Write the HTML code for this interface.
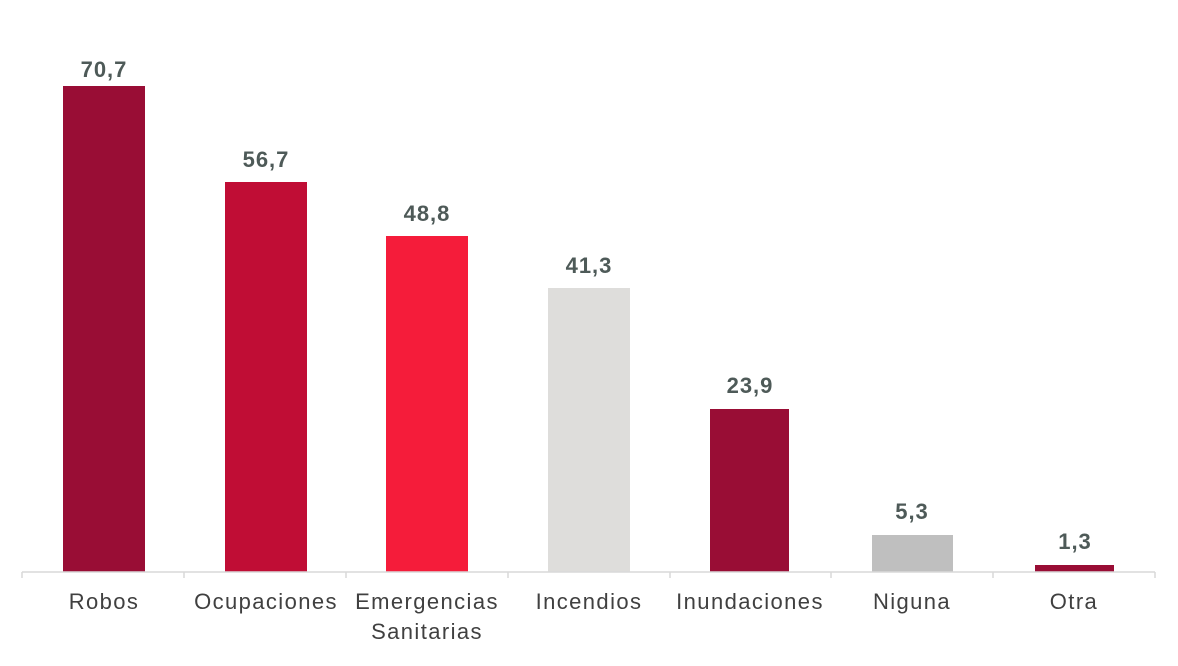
<!DOCTYPE html>
<html><head><meta charset="utf-8"><style>
html,body{margin:0;padding:0;background:#fff;}
body{width:1178px;height:661px;overflow:hidden;}
text{font-family:"Liberation Sans",sans-serif;}
</style></head><body>
<svg width="1178" height="661" viewBox="0 0 1178 661" xmlns="http://www.w3.org/2000/svg">
<g>
<rect x="63" y="86" width="82" height="486" fill="#990D35"/>
<rect x="225" y="182" width="82" height="390" fill="#C00D35"/>
<rect x="386" y="236" width="82" height="336" fill="#F51C3A"/>
<rect x="548" y="288" width="82" height="284" fill="#DEDDDB"/>
<rect x="710" y="409" width="79" height="163" fill="#990D35"/>
<rect x="872" y="535" width="81" height="37" fill="#BFBFBF"/>
<rect x="1035" y="565" width="79" height="7" fill="#990D35"/>
</g>
<g stroke="#D9D9D9" stroke-width="1.5">
<line x1="22" y1="572" x2="1155" y2="572"/>
<line x1="22" y1="572" x2="22" y2="578"/>
<line x1="184" y1="572" x2="184" y2="578"/>
<line x1="346" y1="572" x2="346" y2="578"/>
<line x1="508" y1="572" x2="508" y2="578"/>
<line x1="670" y1="572" x2="670" y2="578"/>
<line x1="831" y1="572" x2="831" y2="578"/>
<line x1="993" y1="572" x2="993" y2="578"/>
<line x1="1155" y1="572" x2="1155" y2="578"/>
</g>
<g font-size="22" font-weight="bold" fill="#4E5A58" text-anchor="middle" letter-spacing="1">
<text x="104" y="77">70,7</text>
<text x="266" y="167">56,7</text>
<text x="427" y="221">48,8</text>
<text x="589" y="273">41,3</text>
<text x="750" y="393">23,9</text>
<text x="912" y="519">5,3</text>
<text x="1075" y="549">1,3</text>
</g>
<g font-size="22" fill="#404040" text-anchor="middle" letter-spacing="1.4">
<text x="104" y="609">Robos</text>
<text x="266" y="609">Ocupaciones</text>
<text x="427" y="609">Emergencias</text>
<text x="427" y="639">Sanitarias</text>
<text x="589" y="609">Incendios</text>
<text x="750" y="609">Inundaciones</text>
<text x="912" y="609">Niguna</text>
<text x="1074" y="609">Otra</text>
</g>
</svg>
</body></html>
